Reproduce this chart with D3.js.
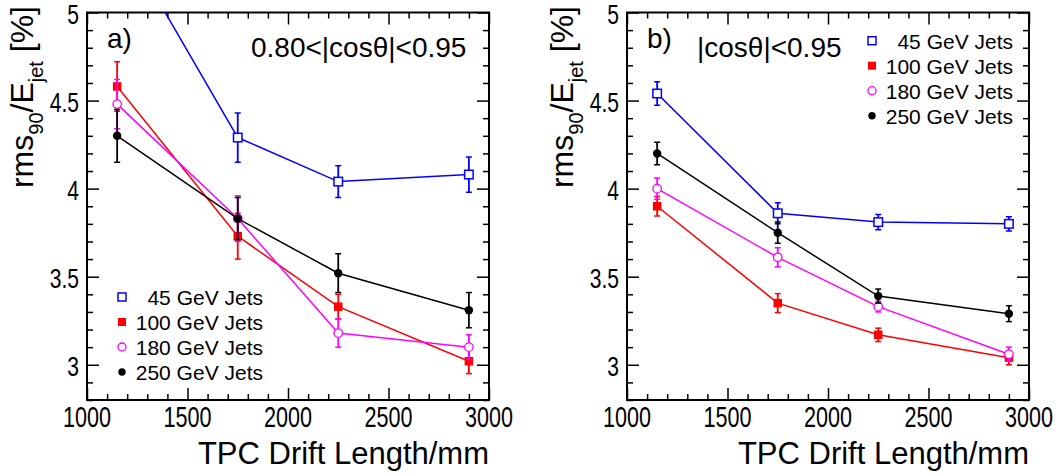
<!DOCTYPE html>
<html><head><meta charset="utf-8">
<script src="https://cdn.jsdelivr.net/npm/d3@7"></script>
<style>
body{margin:0;background:#fff}
text{font-family:"Liberation Sans",Arial,Helvetica,sans-serif;fill:#000}
</style>
</head><body>
<svg id="c" width="1058" height="475"></svg>
<script>
// ---------------- data ----------------
const driftLengths = [1150, 1750, 2250, 2900];
const seriesNames = ["45 GeV Jets", "100 GeV Jets", "180 GeV Jets", "250 GeV Jets"];

// panel a) 0.80<|cos theta|<0.95
const a_45 = [5.47, 4.29, 4.04, 4.08];
const a_45_err = [0.14, 0.14, 0.09, 0.10];
const a_100 = [4.58, 3.73, 3.33, 3.02];
const a_100_err = [0.14, 0.13, 0.07, 0.07];
const a_180 = [4.48, 3.83, 3.18, 3.10];
const a_180_err = [0.14, 0.13, 0.08, 0.07];
const a_250 = [4.30, 3.83, 3.52, 3.31];
const a_250_err = [0.15, 0.12, 0.11, 0.10];

// panel b) |cos theta|<0.95
const b_45 = [4.54, 3.86, 3.81, 3.80];
const b_45_err = [0.067, 0.06, 0.043, 0.04];
const b_100 = [3.90, 3.35, 3.17, 3.04];
const b_100_err = [0.055, 0.054, 0.038, 0.04];
const b_180 = [4.00, 3.61, 3.33, 3.06];
const b_180_err = [0.06, 0.054, 0.03, 0.04];
const b_250 = [4.20, 3.75, 3.39, 3.29];
const b_250_err = [0.064, 0.06, 0.04, 0.045];

const xTickLabels = [1000, 1500, 2000, 2500, 3000];
const yTickLabels = [3, 3.5, 4, 4.5, 5];

// ---------------- styles ----------------
const colors = ["#0000ff", "#ff0000", "#ff00ff", "#000000"];
const markerTypes = ["openSquare", "fullSquare", "openCircle", "fullCircle"];

const svg = d3.select("#c");
const yTop = 12.5, yBot = 400;

const panels = [
  {x0: 87, x1: 489, label: "a)", cut: "0.80<|cosθ|<0.95", cutX: 251,
   vals: [a_45, a_100, a_180, a_250], errs: [a_45_err, a_100_err, a_180_err, a_250_err],
   legX: 122, legTextX: 263, legY: [297, 322, 347, 372], titleX: 33},
  {x0: 627, x1: 1029, label: "b)", cut: "|cosθ|<0.95", cutX: 697,
   vals: [b_45, b_100, b_180, b_250], errs: [b_45_err, b_100_err, b_180_err, b_250_err],
   legX: 872, legTextX: 1013, legY: [40.7, 65.7, 90.7, 115.7], titleX: 573}
];

function drawMarker(g, type, cx, cy, color, s) {
  if (type === "openSquare") {
    g.append("rect").attr("x", cx - s/2).attr("y", cy - s/2).attr("width", s).attr("height", s)
      .attr("fill", "#fff").attr("stroke", color).attr("stroke-width", 1.5);
  } else if (type === "fullSquare") {
    g.append("rect").attr("x", cx - s/2).attr("y", cy - s/2).attr("width", s).attr("height", s)
      .attr("fill", color);
  } else if (type === "openCircle") {
    g.append("circle").attr("cx", cx).attr("cy", cy).attr("r", s/2)
      .attr("fill", "#fff").attr("stroke", color).attr("stroke-width", 1.3);
  } else {
    g.append("circle").attr("cx", cx).attr("cy", cy).attr("r", s/2 - 0.3).attr("fill", color);
  }
}

panels.forEach((p, pi) => {
  const x = d3.scaleLinear().domain([1000, 3000]).range([p.x0, p.x1]);
  const y = d3.scaleLinear().domain([2.8, 5]).range([yBot, yTop]);
  const g = svg.append("g");

  const cid = "clip" + pi;
  svg.append("clipPath").attr("id", cid).append("rect")
    .attr("x", p.x0).attr("y", yTop).attr("width", p.x1 - p.x0).attr("height", yBot - yTop);

  const xMinor = d3.range(1000, 3001, 100);
  const yMinor = d3.range(28, 51, 1).map(v => v / 10);
  const mk = (axis, tr) => {
    const a = g.append("g").attr("transform", tr).call(axis);
    a.select(".domain").remove();
    a.selectAll("line").attr("stroke", "#000").attr("stroke-width", 1.5);
    a.selectAll("text").remove();
  };
  [[d3.axisBottom, `translate(0,${yBot})`], [d3.axisTop, `translate(0,${yTop})`]].forEach(([f, tr]) => {
    mk(f(x).tickValues(xMinor.filter(v => v % 500 !== 0)).tickSize(-6).tickSizeOuter(0), tr);
    mk(f(x).tickValues(xTickLabels).tickSize(-12).tickSizeOuter(0), tr);
  });
  [[d3.axisLeft, `translate(${p.x0},0)`], [d3.axisRight, `translate(${p.x1},0)`]].forEach(([f, tr]) => {
    mk(f(y).tickValues(yMinor.filter(v => Math.round(v * 10) % 5 !== 0)).tickSize(-6).tickSizeOuter(0), tr);
    mk(f(y).tickValues(yTickLabels).tickSize(-12).tickSizeOuter(0), tr);
  });

  g.append("rect").attr("x", p.x0).attr("y", yTop).attr("width", p.x1 - p.x0).attr("height", yBot - yTop)
    .attr("fill", "none").attr("stroke", "#000").attr("stroke-width", 2);

  xTickLabels.forEach(v => {
    g.append("text").attr("transform", `translate(${x(v)},427) scale(0.72,1)`)
      .attr("text-anchor", "middle").attr("font-size", 30).text(v);
  });
  yTickLabels.forEach(v => {
    g.append("text").attr("transform", `translate(${p.x0 - 8},${y(v) + 11.5}) scale(0.78,1)`)
      .attr("text-anchor", "end").attr("font-size", 27).text(d3.format("~g")(v));
  });

  g.append("text").attr("x", p.x1).attr("y", 464).attr("text-anchor", "end")
    .attr("font-size", 31).text("TPC Drift Length/mm");

  const yt = g.append("text").attr("transform", `translate(${p.titleX},6) rotate(-90)`)
    .attr("text-anchor", "end").attr("font-size", 32);
  yt.append("tspan").text("rms");
  yt.append("tspan").attr("font-size", 20).attr("dy", 10).text("90");
  yt.append("tspan").attr("dy", -10).text("/E");
  yt.append("tspan").attr("font-size", 20).attr("dy", 10).text("jet");
  yt.append("tspan").attr("dy", -10).text(" [%]");

  g.append("text").attr("x", p.x0 + 20).attr("y", 48).attr("font-size", 28).text(p.label);
  g.append("text").attr("x", p.cutX).attr("y", 57).attr("font-size", 28).text(p.cut);

  const dg = g.append("g").attr("clip-path", `url(#${cid})`);
  p.vals.forEach((vals, si) => {
    const col = colors[si];
    const pts = driftLengths.map((d, i) => ({x: d, v: vals[i], e: p.errs[si][i]}));
    dg.append("path").datum(pts)
      .attr("d", d3.line().x(d => x(d.x)).y(d => y(d.v)))
      .attr("fill", "none").attr("stroke", col).attr("stroke-width", 1.5);
    pts.forEach(d => {
      const cx = x(d.x);
      dg.append("line").attr("x1", cx).attr("x2", cx).attr("y1", y(d.v + d.e)).attr("y2", y(d.v - d.e))
        .attr("stroke", col).attr("stroke-width", 1.8);
      [d.v + d.e, d.v - d.e].forEach(ev => {
        dg.append("line").attr("x1", cx - 3).attr("x2", cx + 3).attr("y1", y(ev)).attr("y2", y(ev))
          .attr("stroke", col).attr("stroke-width", 1.5);
      });
    });
    pts.forEach(d => {
      drawMarker(dg, markerTypes[si], x(d.x), y(d.v), col, markerTypes[si] === "fullCircle" ? 9 : 8.5);
    });
  });

  seriesNames.forEach((name, si) => {
    const ly = p.legY[si];
    drawMarker(g, markerTypes[si], p.legX, ly, colors[si], 8);
    g.append("text").attr("x", p.legTextX).attr("y", ly + 8).attr("text-anchor", "end")
      .attr("font-size", 21).text(name);
  });
});
</script>
</body></html>
